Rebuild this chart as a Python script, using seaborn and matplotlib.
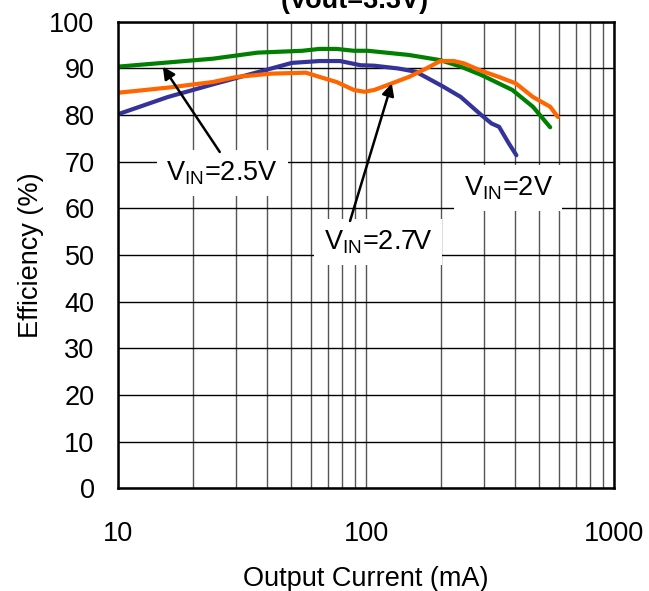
import numpy as np
import pandas as pd
import matplotlib
matplotlib.use("Agg")
import matplotlib.pyplot as plt
import seaborn as sns
from matplotlib.ticker import FixedLocator, LogLocator, NullFormatter

# ---- data ----
cur_2v = [10, 15.9, 24.9, 38.9, 50.2, 64.9, 78.6, 95, 108, 135, 159, 205, 241, 292, 321, 344, 377, 404]
eff_2v = [80.2, 83.9, 86.8, 89.6, 91.2, 91.6, 91.6, 90.7, 90.6, 90.0, 89.3, 86.1, 83.9, 80.0, 78.2, 77.5, 73.9, 71.4]

cur_25v = [10, 24.1, 36.5, 55.3, 64.9, 76.1, 89.3, 101.6, 149, 199, 241, 292, 389, 471, 553]
eff_25v = [90.4, 92.1, 93.4, 93.8, 94.2, 94.2, 93.8, 93.8, 92.9, 91.8, 90.4, 88.6, 85.4, 81.8, 77.4]

cur_27v = [10, 15.9, 24.1, 30.1, 41.5, 57.2, 64.9, 76.1, 89.3, 98.5, 108, 127, 149, 175, 199, 226, 248, 292, 343, 402, 471, 553, 594]
eff_27v = [84.8, 85.9, 87.1, 88.2, 88.9, 89.1, 88.2, 87.1, 85.4, 85.0, 85.4, 86.8, 88.2, 90.0, 91.6, 91.6, 91.1, 89.5, 88.2, 86.8, 83.9, 81.8, 79.6]

series_names = ["VIN=2V", "VIN=2.5V", "VIN=2.7V"]
series_colors = ["#333399", "#008000", "#FF6600"]

x_ticks = [10, 100, 1000]
y_ticks = list(range(0, 101, 10))

df = pd.concat([
    pd.DataFrame({"current": cur_2v, "eff": eff_2v, "series": series_names[0]}),
    pd.DataFrame({"current": cur_25v, "eff": eff_25v, "series": series_names[1]}),
    pd.DataFrame({"current": cur_27v, "eff": eff_27v, "series": series_names[2]}),
], ignore_index=True)

sns.set_theme(style="white")
plt.rcParams["font.family"] = ["Liberation Sans", "DejaVu Sans"]
plt.rcParams["mathtext.default"] = "regular"
plt.rcParams["text.color"] = "black"

FS = 19.5

fig = plt.figure(figsize=(6.49, 5.91), dpi=100)
ax = fig.add_axes([0.182, 0.174, 0.764, 0.789])

ax.set_xscale("log")
ax.set_xlim(10, 1000)
ax.set_ylim(0, 100)

# grid
ax.xaxis.set_major_locator(FixedLocator(x_ticks))
ax.xaxis.set_minor_locator(LogLocator(base=10, subs=np.arange(2, 10)))
ax.xaxis.set_minor_formatter(NullFormatter())
ax.set_xticks(x_ticks)
ax.set_xticklabels([str(t) for t in x_ticks])
ax.set_yticks(y_ticks)
ax.grid(True, axis="x", which="both", color="#555555", linewidth=1.0)
ax.grid(True, axis="y", which="major", color="black", linewidth=1.0)
ax.set_axisbelow(True)

sns.lineplot(data=df, x="current", y="eff", hue="series", palette=dict(zip(series_names, series_colors)),
             estimator=None, sort=False, linewidth=3.0, legend=False, ax=ax)

for s in ax.spines.values():
    s.set_color("black")
    s.set_linewidth(1.8)

ax.tick_params(axis="both", which="both", length=0, labelsize=FS, colors="black")
ax.tick_params(axis="y", pad=17)
ax.tick_params(axis="x", pad=24)
ax.set_xlabel("Output Current (mA)", fontsize=FS, labelpad=13, color="black")
ax.set_ylabel("Efficiency (%)", fontsize=FS, labelpad=4, color="black")

# annotations
box = dict(boxstyle="square,pad=0.35", facecolor="white", edgecolor="none")
arrow = dict(arrowstyle="-|>", color="black", lw=1.8, mutation_scale=18, shrinkA=0, shrinkB=0)

ax.annotate("", xy=(15.15, 90.4), xytext=(25.7, 72.1), arrowprops=arrow, zorder=4)
ax.annotate("", xy=(127, 86.8), xytext=(86.2, 57.3), arrowprops=arrow, zorder=4)

ax.text(26.3, 67.6, "V$_{IN}$=2.5V", fontsize=FS, ha="center", va="center", bbox=box, zorder=3, color="black")
ax.text(374, 64.4, "V$_{IN}$=2V", fontsize=FS, ha="center", va="center", bbox=box, zorder=3, color="black")
ax.text(111.7, 52.8, "V$_{IN}$=2.7V", fontsize=FS, ha="center", va="center", bbox=box, zorder=3, color="black")

fig.text(0.546, 0.976, "(Vout=3.3V)", fontsize=FS, fontweight="bold", ha="center", va="bottom", color="black")

fig.savefig("out.png", dpi=100)
